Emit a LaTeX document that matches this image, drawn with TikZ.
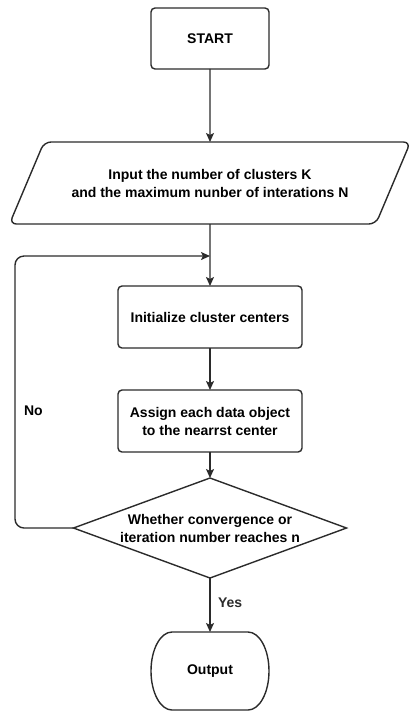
\documentclass[tikz,border=0pt]{standalone}
\usepackage{fontspec}
\setmainfont{Liberation Sans}
\usepackage{tikz}
\usetikzlibrary{arrows.meta,positioning,shapes.geometric}
\definecolor{fline}{HTML}{2B2B2B}

\begin{document}
\begin{tikzpicture}[
  font=\fontsize{14}{18}\selectfont\bfseries,
  line width=1.4pt,
  every node/.style={outer sep=0pt},
  box/.style={draw=fline,rounded corners=4pt,align=center,
    minimum width=184pt,minimum height=62pt,inner sep=2pt},
  io/.style={draw=fline,trapezium,trapezium left angle=43,trapezium right angle=137,
    trapezium stretches body,rounded corners=7pt,align=center,
    minimum width=401pt,minimum height=82pt,inner sep=2pt},
  gate/.style={draw=fline,diamond,aspect=2.73,align=center,
    minimum width=273pt,minimum height=100pt,inner sep=0pt},
  term/.style={minimum width=118pt,minimum height=78pt,inner sep=0pt},
  lbl/.style={inner sep=0pt},
  arrow/.style={-{Stealth[length=9pt,width=8pt,inset=2pt]},fline}]
\useasboundingbox (0,0) rectangle (409pt,-711pt);
\node[box,minimum width=118pt,minimum height=61pt] (start) at (210pt,-38.5pt) {START};
\node[io,below=73pt of start] (input) {Input the number of clusters K\\and the maximum nunber of interations N};
\node[box,below=62pt of input] (init) {Initialize cluster centers};
\node[box,below=42pt of init] (assign) {Assign each data object\\to the nearrst center};
\node[gate,below=26pt of assign] (check) {Whether convergence or\\iteration number reaches n};
\node[term,below=54pt of check] (out) {Output};
\coordinate[below=32pt of input] (join);
% terminator with flat top and elliptic ends
\draw[fline] ([xshift=21pt]out.north west) -- ([xshift=-21pt]out.north east)
  arc[start angle=90,end angle=-90,x radius=21pt,y radius=39pt]
  -- ([xshift=21pt]out.south west)
  arc[start angle=270,end angle=90,x radius=21pt,y radius=39pt] -- cycle;
\draw[arrow] (start) -- (input);
\draw[arrow] (input) -- (init);
\draw[arrow] (init) -- (assign);
\draw[arrow] (assign) -- (check);
\draw[arrow] (check) -- node[lbl,right=8pt,pos=0.45] (yes) {Yes} (out);
\draw[arrow,rounded corners=9pt] (check.west) -- ++(-58.5pt,0) |- (join);
\node[lbl,anchor=west] (no) at (24pt,-411pt) {No};
\end{tikzpicture}
\end{document}
